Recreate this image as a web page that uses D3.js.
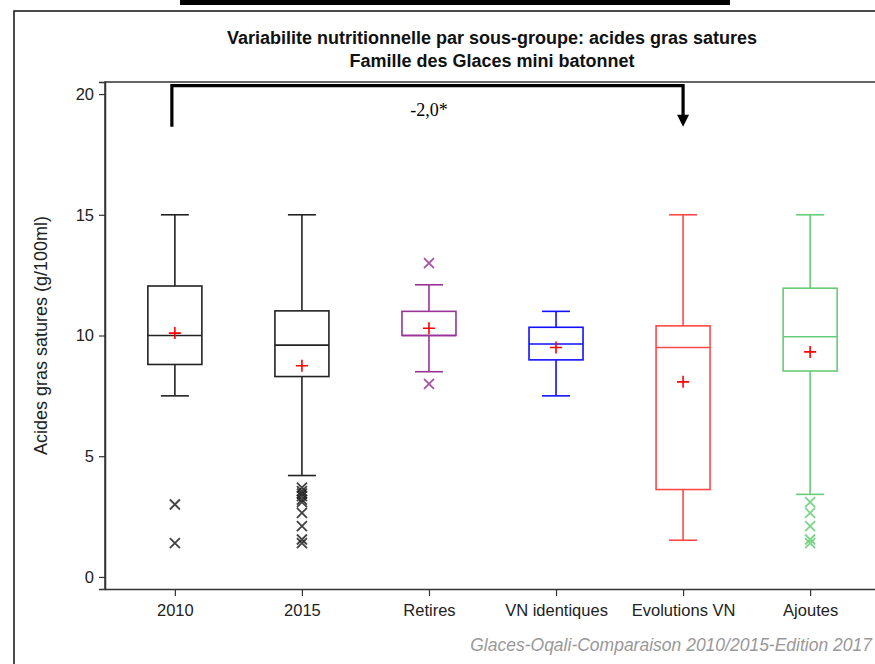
<!DOCTYPE html>
<html><head><meta charset="utf-8">
<script src="https://cdn.jsdelivr.net/npm/d3@7"></script>
<style>html,body{margin:0;padding:0;background:#fff;}svg{display:block;}</style>
</head><body>
<script>
const categories = ["2010","2015","Retires","VN identiques","Evolutions VN","Ajoutes"];
const whiskerHigh = [15, 15, 12.1, 11.0, 15, 15];
const q3 = [12.05, 11.02, 11.0, 10.34, 10.4, 11.96];
const medians = [10.0, 9.6, 10.0, 9.65, 9.5, 9.95];
const q1 = [8.8, 8.3, 10.0, 8.99, 3.62, 8.53];
const whiskerLow = [7.5, 4.2, 8.5, 7.5, 1.52, 3.42];
const means = [10.1, 8.75, 10.3, 9.5, 8.08, 9.32];
const outliers = [
  [3.0, 1.4],
  [3.7, 3.55, 3.45, 3.35, 3.2, 3.1, 2.65, 2.1, 1.55, 1.4],
  [13.0, 8.0],
  [],
  [],
  [3.1, 2.65, 2.1, 1.55, 1.4]
];
const colors = ["#222222","#222222","#993399","#1010ff","#ff4848","#66cc77"];
const yTicks = [0, 5, 10, 15, 20];
const titleLines = ["Variabilite nutritionnelle par sous-groupe: acides gras satures","Famille des Glaces mini batonnet"];
const yLabel = "Acides gras satures (g/100ml)";
const footer = "Glaces-Oqali-Comparaison 2010/2015-Edition 2017";
const bracketFrom = "2010", bracketTo = "Evolutions VN", bracketLabel = "-2,0*";
const bracketLevel = 20.35, bracketEnd = 18.65;

const W = 875, H = 664;
const svg = d3.select("body").append("svg").attr("width", W).attr("height", H);
const font = "Arial, 'Liberation Sans', sans-serif";

// top clipped bar
svg.append("text").attr("x",272).attr("y",2).attr("font-family",font).attr("font-size",16).attr("font-weight","bold").attr("fill","#000").text("g");
svg.append("rect").attr("x",180).attr("y",-20).attr("width",550).attr("height",25).attr("fill","#000");

// outer frame
svg.append("path").attr("d",`M14,${H} L14,11 L${W},11`).attr("fill","none").attr("stroke","#111").attr("stroke-width",1.5);

const plot = {l:105, t:82, r:880, b:589};
const x = d3.scalePoint().domain(categories).range([plot.l, plot.r]).padding(0.55);
const y = d3.scaleLinear().domain([-0.5, 20.5]).range([plot.b, plot.t]);

// title
titleLines.forEach((t,i)=>{
  svg.append("text").attr("x",492).attr("y",44+i*23).attr("text-anchor","middle")
    .attr("font-family",font).attr("font-size",18).attr("font-weight","bold").attr("fill","#111").text(t);
});

// plot frame
svg.append("path").attr("d",`M${plot.l},${plot.b} L${plot.l},${plot.t} L${W+5},${plot.t}`)
  .attr("fill","none").attr("stroke","#333").attr("stroke-width",1.5);

// axes
const yAxis = d3.axisLeft(y).tickValues(yTicks).tickSize(6).tickPadding(5);
const gy = svg.append("g").attr("transform",`translate(${plot.l},0)`).call(yAxis);
const xAxis = d3.axisBottom(x).tickSize(7).tickPadding(8);
const gx = svg.append("g").attr("transform",`translate(0,${plot.b})`).call(xAxis);
[gx, gy].forEach(g=>{
  g.selectAll("text").attr("font-family",font).attr("font-size",16.5).attr("fill","#222");
  g.selectAll("line").attr("stroke","#333").attr("stroke-width",1.2);
  g.select(".domain").attr("stroke","#333").attr("stroke-width",1.5);
});
gx.select(".domain").attr("d",`M${plot.l},0.5H${W+5}`);

// y label
svg.append("text").attr("transform",`translate(47,${(y(20)+y(0))/2}) rotate(-90)`).attr("text-anchor","middle")
  .attr("font-family",font).attr("font-size",18).attr("fill","#222").text(yLabel);

// boxes
const boxW = 54, capW = 28;
categories.forEach((c,i)=>{
  const cx = x(c), col = colors[i];
  const g = svg.append("g").attr("stroke",col).attr("stroke-width",1.6).attr("fill","none");
  g.append("line").attr("x1",cx).attr("x2",cx).attr("y1",y(whiskerHigh[i])).attr("y2",y(q3[i]));
  g.append("line").attr("x1",cx).attr("x2",cx).attr("y1",y(q1[i])).attr("y2",y(whiskerLow[i]));
  g.append("line").attr("x1",cx-capW/2).attr("x2",cx+capW/2).attr("y1",y(whiskerHigh[i])).attr("y2",y(whiskerHigh[i]));
  g.append("line").attr("x1",cx-capW/2).attr("x2",cx+capW/2).attr("y1",y(whiskerLow[i])).attr("y2",y(whiskerLow[i]));
  g.append("rect").attr("x",cx-boxW/2).attr("y",y(q3[i])).attr("width",boxW).attr("height",y(q1[i])-y(q3[i]));
  g.append("line").attr("x1",cx-boxW/2).attr("x2",cx+boxW/2).attr("y1",y(medians[i])).attr("y2",y(medians[i]));
  outliers[i].forEach(v=>{
    const oy = y(v), s = 5;
    g.append("path").attr("d",`M${cx-s},${oy-s}L${cx+s},${oy+s}M${cx-s},${oy+s}L${cx+s},${oy-s}`).attr("stroke-width",1.8).attr("opacity",0.85);
  });
  const my = y(means[i]), m = 6;
  svg.append("path").attr("d",`M${cx-m},${my}L${cx+m},${my}M${cx},${my-m}L${cx},${my+m}`)
    .attr("stroke","#ff0000").attr("stroke-width",1.6).attr("fill","none");
});

// bracket
const bx1 = x(bracketFrom)-3, bx2 = x(bracketTo);
const by = y(bracketLevel), byEnd = y(bracketEnd);
svg.append("path").attr("d",`M${bx1},${byEnd}L${bx1},${by}L${bx2},${by}L${bx2},${byEnd-10}`)
  .attr("fill","none").attr("stroke","#000").attr("stroke-width",3.2);
svg.append("path").attr("d",`M${bx2-6},${byEnd-12}L${bx2+6},${byEnd-12}L${bx2},${byEnd}Z`).attr("fill","#000");
svg.append("text").attr("x",(x("Retires"))).attr("y",by+30).attr("text-anchor","middle")
  .attr("font-family","'Liberation Serif','DejaVu Serif',serif").attr("font-size",18).attr("fill","#000").text(bracketLabel);

// footer
svg.append("text").attr("x",872).attr("y",651).attr("text-anchor","end").attr("font-family",font)
  .attr("font-size",17.5).attr("font-style","italic").attr("fill","#999").text(footer);
</script>
</body></html>
